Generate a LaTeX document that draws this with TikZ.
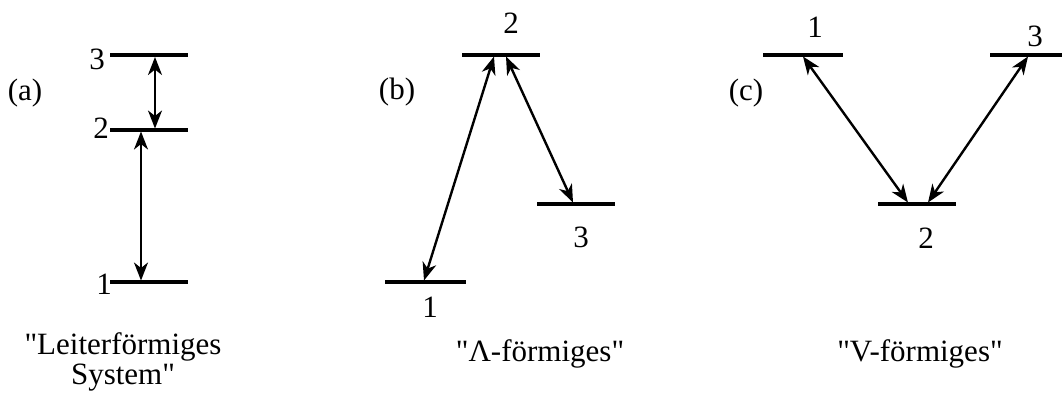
\documentclass[tikz,border=0pt]{standalone}
\usepackage{fontspec}
\setmainfont{Liberation Serif}[Ligatures=TeXOff]
\usetikzlibrary{arrows.meta}
\begin{document}
\begin{tikzpicture}[x=1pt,y=-1pt,
  level/.style={line width=3.2pt},
  trans/.style={line width=2.4pt,
    {Stealth[length=18pt,width=14pt,inset=5.5pt]}-{Stealth[length=18pt,width=14pt,inset=5.5pt]}},
  lab/.style={anchor=base,inner sep=0pt,font=\fontsize{31}{36}\selectfont}]
\useasboundingbox (0,0) rectangle (1062,394);

% ---------- (a) ladder ----------
\coordinate (a3l) at (110,55);  \coordinate (a3r) at (188,55);
\coordinate (a2l) at (110,130); \coordinate (a2r) at (188,130);
\coordinate (a1l) at (110,282); \coordinate (a1r) at (188,282);
\draw[level] (a3l) -- (a3r);
\draw[level] (a2l) -- (a2r);
\draw[level] (a1l) -- (a1r);
\coordinate (a32u) at (155,57);  \coordinate (a32d) at (155,128.5);
\coordinate (a21u) at (141,131.5); \coordinate (a21d) at (141,280.5);
\draw[trans] (a32u) -- (a32d);
\draw[trans] (a21u) -- (a21d);
\node[lab] (la3) at (97,69) {3};
\node[lab] (la2) at (101,138) {2};
\node[lab] (la1) at (104,294) {1};
\node[lab] (pa) at (25,100) {(a)};
\node[lab] (ta1) at (123,354) {"Leiterförmiges};
\node[lab] (ta2) at (123,384) {System"};

% ---------- (b) Lambda ----------
\coordinate (b2l) at (462,55);  \coordinate (b2r) at (540,55);
\coordinate (b3l) at (537,204); \coordinate (b3r) at (615,204);
\coordinate (b1l) at (385,282); \coordinate (b1r) at (466,282);
\draw[level] (b2l) -- (b2r);
\draw[level] (b3l) -- (b3r);
\draw[level] (b1l) -- (b1r);
\coordinate (b2a) at (494,56.5); \coordinate (b1a) at (424,280.5);
\coordinate (b2b) at (506,56.5); \coordinate (b3b) at (573,202.5);
\draw[trans] (b2a) -- (b1a);
\draw[trans] (b2b) -- (b3b);
\node[lab] (lb2) at (511,33) {2};
\node[lab] (lb3) at (581,247) {3};
\node[lab] (lb1) at (430,317) {1};
\node[lab] (pb) at (397,99) {(b)};
\node[lab] (tb) at (540,361) {"Λ-förmiges"};

% ---------- (c) V ----------
\coordinate (c1l) at (763,55);  \coordinate (c1r) at (843,55);
\coordinate (c3l) at (990,55);  \coordinate (c3r) at (1062,55);
\coordinate (c2l) at (878,204); \coordinate (c2r) at (956,204);
\draw[level] (c1l) -- (c1r);
\draw[level] (c3l) -- (c3r);
\draw[level] (c2l) -- (c2r);
\coordinate (c1a) at (803,56.5);  \coordinate (c2a) at (908,202.5);
\coordinate (c3b) at (1028,56.5); \coordinate (c2b) at (928,202.5);
\draw[trans] (c1a) -- (c2a);
\draw[trans] (c3b) -- (c2b);
\node[lab] (lc1) at (815,37) {1};
\node[lab] (lc3) at (1035,46) {3};
\node[lab] (lc2) at (926,248) {2};
\node[lab] (pc) at (746,100) {(c)};
\node[lab] (tc) at (920,361) {"V-förmiges"};
\end{tikzpicture}
\end{document}
